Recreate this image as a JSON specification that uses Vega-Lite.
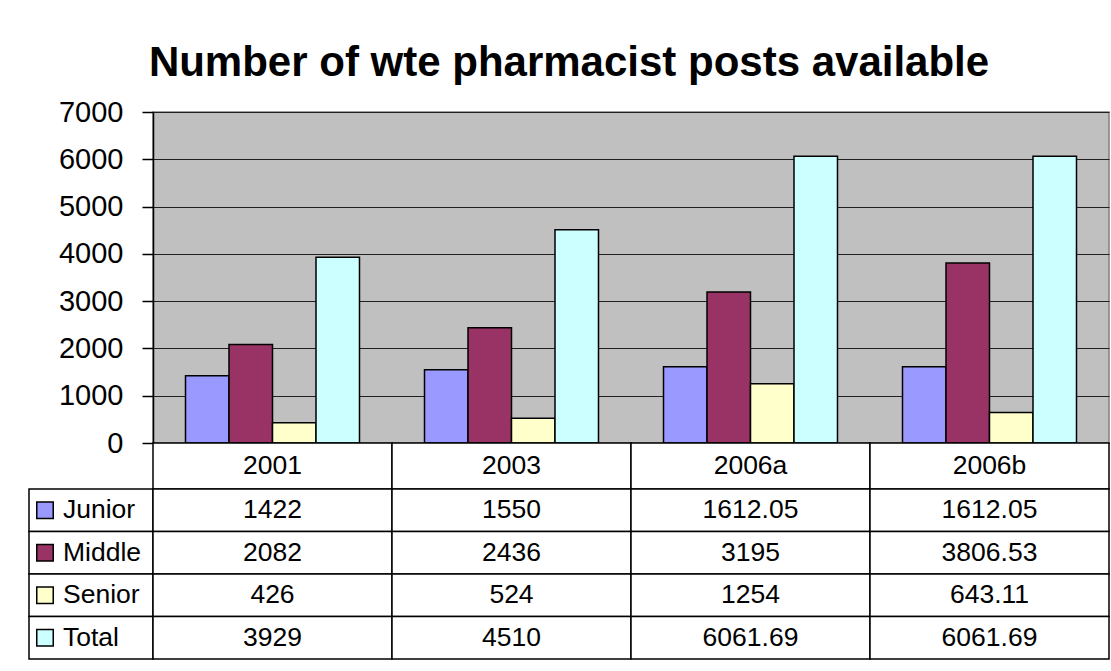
{
  "$schema": "https://vega.github.io/schema/vega-lite/v6.json",
  "padding": {"left": 28, "top": 42, "right": 2, "bottom": 2},
  "background": "white",
  "title": {"text": "Number of wte pharmacist posts available", "font": "Liberation Sans", "fontSize": 42, "fontWeight": "bold", "color": "black", "anchor": "middle", "offset": 12},
  "datasets": {
    "posts": [
      {"category": "2001", "series": "Junior", "value": 1422},
      {"category": "2001", "series": "Middle", "value": 2082},
      {"category": "2001", "series": "Senior", "value": 426},
      {"category": "2001", "series": "Total", "value": 3929},
      {"category": "2003", "series": "Junior", "value": 1550},
      {"category": "2003", "series": "Middle", "value": 2436},
      {"category": "2003", "series": "Senior", "value": 524},
      {"category": "2003", "series": "Total", "value": 4510},
      {"category": "2006a", "series": "Junior", "value": 1612.05},
      {"category": "2006a", "series": "Middle", "value": 3195},
      {"category": "2006a", "series": "Senior", "value": 1254},
      {"category": "2006a", "series": "Total", "value": 6061.69},
      {"category": "2006b", "series": "Junior", "value": 1612.05},
      {"category": "2006b", "series": "Middle", "value": 3806.53},
      {"category": "2006b", "series": "Senior", "value": 643.11},
      {"category": "2006b", "series": "Total", "value": 6061.69}
    ]
  },
  "columns": 2,
  "spacing": 0,
  "bounds": "flush",
  "align": "each",
  "resolve": {"scale": {"x": "independent", "y": "independent", "xOffset": "independent", "color": "shared"}},
  "concat": [
    {
      "width": 124, "height": 331,
      "data": {"values": []},
      "mark": "point",
      "encoding": {}
    },
    {
      "width": 956, "height": 331,
      "data": {"name": "posts"},
      "view": {"fill": "#C0C0C0", "stroke": "#808080", "strokeWidth": 1.5},
      "mark": {"type": "bar", "stroke": "black", "strokeWidth": 1.5},
      "encoding": {
        "x": {"field": "category", "type": "nominal", "sort": null, "axis": null, "scale": {"paddingInner": 0.272, "paddingOuter": 0.136}},
        "xOffset": {"field": "series", "type": "nominal", "sort": ["Junior", "Middle", "Senior", "Total"], "scale": {"paddingInner": 0, "paddingOuter": 0}},
        "y": {"field": "value", "type": "quantitative", "scale": {"domain": [0, 7000], "nice": false},
          "axis": {"values": [0, 1000, 2000, 3000, 4000, 5000, 6000, 7000], "title": null, "labelFontSize": 29, "labelColor": "black", "labelPadding": 19, "tickSize": 11, "tickColor": "black", "tickWidth": 1.5, "domainColor": "black", "domainWidth": 1.5, "grid": true, "gridColor": "#202020", "gridWidth": 1.2, "gridOpacity": 1, "format": "d"}},
        "color": {"field": "series", "type": "nominal", "scale": {"domain": ["Junior", "Middle", "Senior", "Total"], "range": ["#9999FF", "#993366", "#FFFFCC", "#CCFFFF"]}, "legend": null}
      }
    },
    {
      "width": 124, "height": 46,
      "data": {"values": []},
      "mark": "point",
      "encoding": {}
    },
    {
      "width": 956, "height": 46,
      "data": {"name": "posts"},
      "transform": [{"filter": "datum.series === 'Junior'"}],
      "encoding": {
        "x": {"field": "category", "type": "nominal", "sort": null, "axis": null, "scale": {"paddingInner": 0, "paddingOuter": 0}}
      },
      "layer": [
        {"mark": {"type": "rect", "fill": "white", "stroke": "black", "strokeWidth": 1.5}},
        {"mark": {"type": "text", "fontSize": 26.5, "font": "Liberation Sans", "color": "black"}, "encoding": {"text": {"field": "category", "type": "nominal"}}}
      ]
    },
    {
      "width": 124, "height": 170,
      "data": {"name": "posts"},
      "transform": [{"filter": "datum.category === '2001'"}],
      "encoding": {
        "y": {"field": "series", "type": "nominal", "sort": ["Junior", "Middle", "Senior", "Total"], "axis": null, "scale": {"paddingInner": 0, "paddingOuter": 0}}
      },
      "layer": [
        {"mark": {"type": "rect", "fill": "white", "stroke": "black", "strokeWidth": 1.5}},
        {"mark": {"type": "point", "shape": "square", "filled": true, "size": 272, "stroke": "black", "strokeWidth": 1.5, "opacity": 1, "xOffset": -46},
          "encoding": {"color": {"field": "series", "type": "nominal", "scale": {"domain": ["Junior", "Middle", "Senior", "Total"], "range": ["#9999FF", "#993366", "#FFFFCC", "#CCFFFF"]}, "legend": null}}},
        {"mark": {"type": "text", "align": "left", "fontSize": 26.5, "font": "Liberation Sans", "color": "black", "dx": -28}, "encoding": {"text": {"field": "series", "type": "nominal"}}}
      ]
    },
    {
      "width": 956, "height": 170,
      "data": {"name": "posts"},
      "encoding": {
        "x": {"field": "category", "type": "nominal", "sort": null, "axis": null, "scale": {"paddingInner": 0, "paddingOuter": 0}},
        "y": {"field": "series", "type": "nominal", "sort": ["Junior", "Middle", "Senior", "Total"], "axis": null, "scale": {"paddingInner": 0, "paddingOuter": 0}}
      },
      "layer": [
        {"mark": {"type": "rect", "fill": "white", "stroke": "black", "strokeWidth": 1.5}},
        {"mark": {"type": "text", "fontSize": 26.5, "font": "Liberation Sans", "color": "black"}, "encoding": {"text": {"field": "value", "type": "nominal"}}}
      ]
    }
  ],
  "config": {
    "view": {"stroke": null},
    "font": "Liberation Sans"
  }
}
